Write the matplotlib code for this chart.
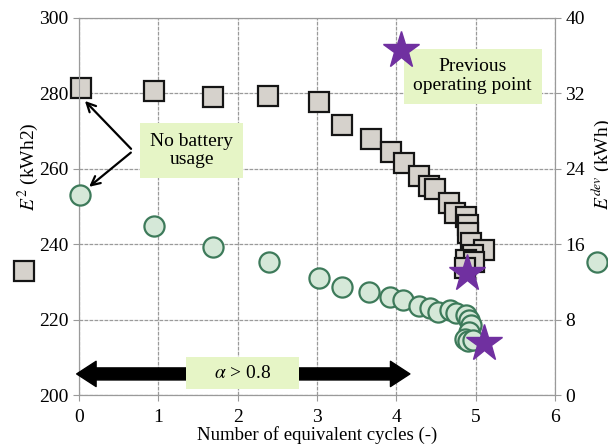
import matplotlib
matplotlib.use("Agg")
import matplotlib.pyplot as plt
from matplotlib.lines import Line2D
from matplotlib.patches import Rectangle

plt.rcParams['font.family'] = ['Liberation Serif', 'DejaVu Serif']
plt.rcParams['mathtext.fontset'] = 'stix'

# E^2 (left axis, kWh2) versus equivalent cycles
cycles_sq = [0.02, 0.94, 1.69, 2.38, 3.03, 3.32, 3.68, 3.93, 4.09, 4.29, 4.41, 4.49,
             4.66, 4.74, 4.88, 4.90, 4.90, 4.94, 5.11, 4.96, 4.88, 4.98, 4.86]
e2_vals = [281.4, 280.6, 279.0, 279.3, 277.7, 271.6, 267.8, 264.5, 261.5, 258.1, 255.4, 254.6,
           250.8, 248.4, 247.3, 245.1, 242.9, 240.2, 238.5, 237.1, 235.8, 235.4, 233.7]

# E^dev (right axis, kWh) versus equivalent cycles
cycles_ci = [0.01, 0.94, 1.69, 2.39, 3.02, 3.32, 3.66, 3.92, 4.08, 4.29, 4.42, 4.52,
             4.67, 4.75, 4.88, 4.92, 4.94, 4.92, 4.86, 4.90, 4.96]
edev_vals = [21.2, 17.9, 15.7, 14.1, 12.4, 11.5, 10.9, 10.4, 10.1, 9.5, 9.2, 8.8,
             9.0, 8.7, 8.5, 8.0, 7.4, 6.7, 6.0, 5.7, 5.8]

# previous operating points (stars)
star_e2 = (4.89, 232.3)
star_edev = (5.11, 5.5)
star_legend = (4.06, 291.5)

sq_face = '#d6d2cc'
ci_face = '#d5e8d8'
ci_edge = '#3d7a5a'
purple = '#7030a0'
box_col = '#e6f5c6'
grid_col = '#9a9a9a'

fig = plt.figure(figsize=(6.08, 4.46), dpi=100)
ax = fig.add_axes([0.130, 0.114, 0.783, 0.846])
ax2 = ax.twinx()

ax.set_xlim(0, 6)
ax.set_ylim(200, 300)
ax2.set_ylim(0, 40)
ax.set_xticks(range(0, 7))
ax.set_yticks(range(200, 301, 20))
ax2.set_yticks(range(0, 41, 8))

ax.grid(True, color=grid_col, linestyle=(0, (3, 1)), linewidth=0.9)
for a in (ax, ax2):
    for s in a.spines.values():
        s.set_color(grid_col)
    a.tick_params(colors='black', labelsize=14, length=4, color=grid_col)
ax.tick_params(axis='x', pad=6)

ax.plot(cycles_sq, e2_vals, 's', ms=14.5, mfc=sq_face, mec='#151515', mew=1.6,
        clip_on=False, zorder=3)
ax.plot(*star_e2, '*', ms=28, color=purple, mec=purple, zorder=5)

ax2.plot(cycles_ci, edev_vals, 'o', ms=14.5, mfc=ci_face, mec=ci_edge, mew=1.6,
         clip_on=False, zorder=3)
ax2.plot(*star_edev, '*', ms=28, color=purple, mec=purple, zorder=5)

# annotations
ax2.text(1.42, 25.9, 'No battery\nusage', ha='center', va='center', fontsize=14,
         linespacing=1.1, bbox=dict(boxstyle='square,pad=0.5', fc=box_col, ec='none'), zorder=6)
ax2.annotate('', xy=(0.05, 31.4), xytext=(0.68, 25.9),
             arrowprops=dict(arrowstyle='->', lw=1.6, color='black', mutation_scale=16), zorder=6)
ax2.annotate('', xy=(0.1, 21.9), xytext=(0.68, 25.9),
             arrowprops=dict(arrowstyle='->', lw=1.6, color='black', mutation_scale=16), zorder=6)

ax2.text(4.96, 33.8, 'Previous\noperating point', ha='center', va='center', fontsize=14,
         linespacing=1.15, bbox=dict(boxstyle='square,pad=0.5', fc=box_col, ec='none'), zorder=6)
ax2.plot(star_legend[0], (star_legend[1] - 200) * 0.4, '*', ms=28, color=purple,
         mec=purple, zorder=7)

arrow_y = 2.25
for end in (-0.03, 4.17):
    ax2.annotate('', xy=(end, arrow_y), xytext=(2.05, arrow_y),
                 arrowprops=dict(arrowstyle='simple,head_length=1.0,head_width=1.3,tail_width=0.62',
                                 mutation_scale=14, fc='black', ec='black', shrinkA=0, shrinkB=0),
                 annotation_clip=False, zorder=6)
ax2.add_patch(Rectangle((1.35, 0.64), 1.42, 3.4, fc=box_col, ec='none', zorder=7))
ax2.text(2.06, arrow_y, r'$\alpha$ > 0.8', ha='center', va='center', fontsize=14, zorder=8)

ax.set_xlabel('Number of equivalent cycles (-)', fontsize=13.5, labelpad=0)

# axis labels with marker keys
fig.text(0.046, 0.626, r'$E^2$ (kWh2)', rotation=90, ha='center', va='center', fontsize=14)
fig.add_artist(Line2D([0.039], [0.392], marker='s', ms=14.5, mfc=sq_face, mec='#151515',
                      mew=1.6, transform=fig.transFigure))
fig.text(0.99, 0.63, r'$E^{dev}$ (kWh)', rotation=90, ha='center', va='center', fontsize=14)
fig.add_artist(Line2D([0.982], [0.413], marker='o', ms=14.5, mfc=ci_face, mec=ci_edge,
                      mew=1.6, transform=fig.transFigure))

fig.savefig('out.png', dpi=100)
